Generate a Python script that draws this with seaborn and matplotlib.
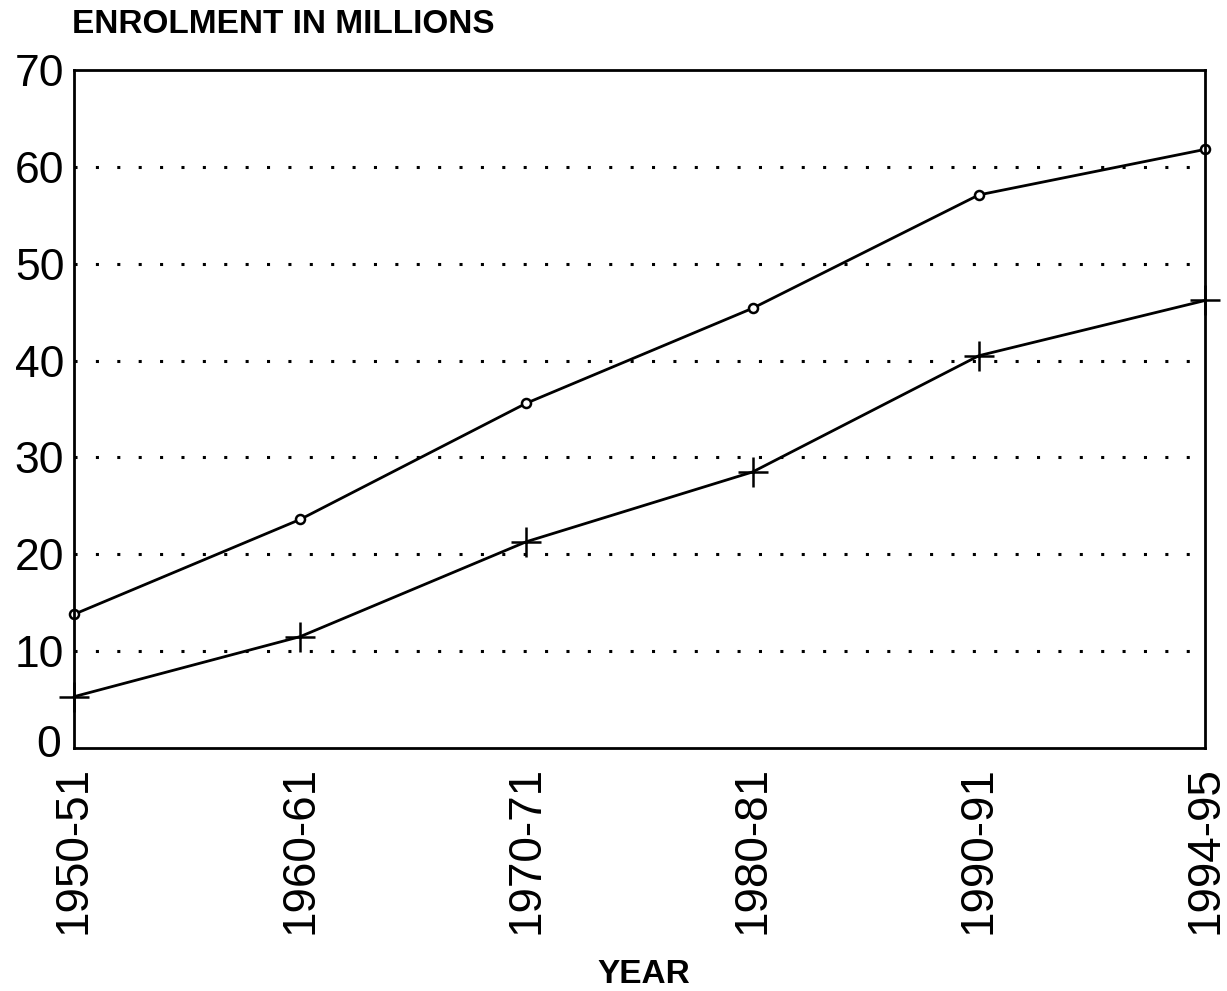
import pandas as pd
import matplotlib
matplotlib.use("Agg")
import matplotlib.pyplot as plt
import matplotlib.transforms as mtransforms
import seaborn as sns

# Data (enrolment in millions)
years = ["1950-51", "1960-61", "1970-71", "1980-81", "1990-91", "1994-95"]
upper_series = [13.8, 23.6, 35.6, 45.4, 57.1, 61.8]
lower_series = [5.3, 11.5, 21.3, 28.5, 40.5, 46.2]

sns.set_theme(style="white")
plt.rcParams['font.family'] = ['Liberation Sans', 'DejaVu Sans']

df = pd.DataFrame({"year": years, "upper": upper_series, "lower": lower_series})
df["pos"] = range(len(years))

fig = plt.figure(figsize=(12.27, 9.91), dpi=100)
# axes box: left 74px, right 1205px, top 70px, bottom 748px
ax = fig.add_axes([0.0603, 0.2452, 0.9218, 0.6842])

sns.lineplot(data=df, x="pos", y="upper", ax=ax, color="black", linewidth=2,
             marker="o", markersize=6.5, markerfacecolor="white",
             markeredgecolor="black", markeredgewidth=1.8, clip_on=False)
sns.lineplot(data=df, x="pos", y="lower", ax=ax, color="black", linewidth=2,
             marker="+", markersize=21, markeredgecolor="black",
             markeredgewidth=1.8, clip_on=False)

ax.set_xlim(0, len(years) - 1)
ax.set_ylim(0, 70)
ax.set_xticks(df["pos"])
ax.set_xticklabels(years, rotation=90, fontsize=33, color="black")
ax.set_yticks(range(0, 71, 10))
ax.set_yticklabels([str(v) for v in range(0, 71, 10)], fontsize=32, color="black")
ax.tick_params(axis="both", length=0)
ax.tick_params(axis="x", pad=13)
ax.tick_params(axis="y", pad=7)
ax.set_xlabel("")
ax.set_ylabel("")

# nudge the "0" label up a little so it clears the first year label
zero_lbl = ax.get_yticklabels()[0]
zero_lbl.set_transform(zero_lbl.get_transform() +
                       mtransforms.ScaledTranslation(-2 / 72, 5 / 72, fig.dpi_scale_trans))

# dotted horizontal grid
for v in range(10, 70, 10):
    ax.axhline(v, color="black", linestyle=(0, (1, 6)), linewidth=2.2, zorder=0)

for s in ax.spines.values():
    s.set_visible(True)
    s.set_color("black")
    s.set_linewidth(2)

fig.text(0.059, 0.975, "ENROLMENT IN MILLIONS", fontsize=24, fontweight="bold",
         ha="left", va="center", color="black")
fig.text(0.525, 0.017, "YEAR", fontsize=24, fontweight="bold",
         ha="center", va="center", color="black")

fig.savefig("out.png", dpi=100)
